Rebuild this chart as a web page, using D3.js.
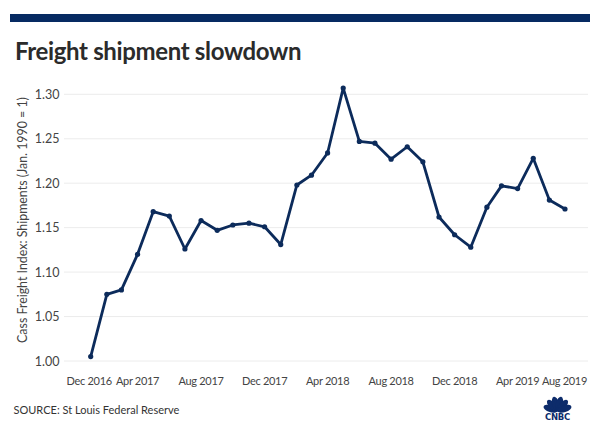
<!DOCTYPE html>
<html><head><meta charset="utf-8">
<script src="https://cdn.jsdelivr.net/npm/d3@7"></script>
<style>
html,body{margin:0;padding:0;background:#fff;}
svg{display:block;font-family:Lato,"Open Sans",sans-serif;}
</style></head>
<body>
<svg id="chart" width="600" height="429"></svg>
<script>
const title = "Freight shipment slowdown";
const yTitle = "Cass Freight Index: Shipments (Jan. 1990 = 1)";
const source = "SOURCE: St Louis Federal Reserve";
const months = ["2017-01","2017-02","2017-03","2017-04","2017-05","2017-06","2017-07","2017-08","2017-09","2017-10","2017-11","2017-12",
  "2018-01","2018-02","2018-03","2018-04","2018-05","2018-06","2018-07","2018-08","2018-09","2018-10","2018-11","2018-12",
  "2019-01","2019-02","2019-03","2019-04","2019-05","2019-06","2019-07"];
const values = [1.005,1.075,1.080,1.120,1.168,1.163,1.126,1.158,1.147,1.153,1.155,1.151,
  1.131,1.198,1.209,1.234,1.307,1.247,1.245,1.227,1.241,1.224,1.162,1.142,
  1.128,1.173,1.197,1.194,1.228,1.181,1.171];
const yTicks = [1.00,1.05,1.10,1.15,1.20,1.25,1.30];
const xTickMonths = ["2016-12","2017-04","2017-08","2017-12","2018-04","2018-08","2018-12","2019-04","2019-08"];

const parse = d3.timeParse("%Y-%m");
const data = months.map((m,i)=>({date:parse(m), value:values[i]}));
const svg = d3.select("#chart");

const navy = "#0c2b5b";
const gridL = 64, gridR = 588;

// top bar
svg.append("rect").attr("x",10).attr("y",14).attr("width",580).attr("height",8).attr("fill","#062a62");

svg.append("text").attr("x",15).attr("y",60).attr("font-size",24).attr("font-weight",700)
  .attr("letter-spacing",-0.35).attr("fill","#2b2b2b").text(title);

const x = d3.scaleTime().domain([data[0].date, data[data.length-1].date]).range([90.7,565]);
const y = d3.scaleLinear().domain([1.0,1.3]).range([361,94.3]);

// gridlines
svg.append("g").selectAll("line").data(yTicks).join("line")
  .attr("x1",gridL).attr("x2",gridR)
  .attr("y1",d=>y(d)).attr("y2",d=>y(d))
  .attr("stroke","#ececec").attr("stroke-width",1);

// y axis labels
const yAxis = d3.axisLeft(y).tickValues(yTicks).tickFormat(d3.format(".2f")).tickSize(0).tickPadding(0);
const gy = svg.append("g").attr("transform","translate(59.5,0)").call(yAxis);
gy.select(".domain").remove();
gy.selectAll("text").attr("font-size",12.5).attr("fill","#444").attr("font-family","Lato,sans-serif");

// y title
svg.append("text").attr("transform","translate(27,220) rotate(-90)")
  .attr("text-anchor","middle").attr("font-size",12.4).attr("fill","#444").text(yTitle);

// x axis labels
const fmt = d3.timeFormat("%b %Y");
const gx = svg.append("g");
xTickMonths.forEach(m=>{
  const d = parse(m);
  const t = gx.append("text").attr("y",385).attr("font-size",11).attr("letter-spacing",-0.3)
    .attr("fill","#444").text(fmt(d));
  const w = t.node().getComputedTextLength();
  let cx = x(d) - w/2;
  cx = Math.max(66.5, Math.min(cx, 587 - w));
  t.attr("x",cx);
});

// line
const line = d3.line().x(d=>x(d.date)).y(d=>y(d.value));
svg.append("path").datum(data).attr("d",line).attr("fill","none")
  .attr("stroke",navy).attr("stroke-width",2.8).attr("stroke-linejoin","round");
svg.append("g").selectAll("circle").data(data).join("circle")
  .attr("cx",d=>x(d.date)).attr("cy",d=>y(d.value)).attr("r",2.6).attr("fill",navy);

// source
svg.append("text").attr("x",13.5).attr("y",414).attr("font-size",11).attr("fill","#333").text(source);

// CNBC logo
const logo = svg.append("g").attr("transform","translate(557.5,411)");
const feathers = [-72,-43,-14.5,14.5,43,72];
feathers.forEach(a=>{
  logo.append("ellipse").attr("cx",0).attr("cy",-7.2).attr("rx",3.5).attr("ry",7.4)
    .attr("fill","#0d2c6b").attr("transform",`rotate(${a})`);
});
logo.append("text").attr("x",0).attr("y",9).attr("text-anchor","middle")
  .attr("font-size",8.5).attr("font-weight",900).attr("font-family","'DejaVu Sans',sans-serif")
  .attr("letter-spacing",-0.3).attr("fill","#0d2c6b").text("CNBC");
</script>
</body></html>
